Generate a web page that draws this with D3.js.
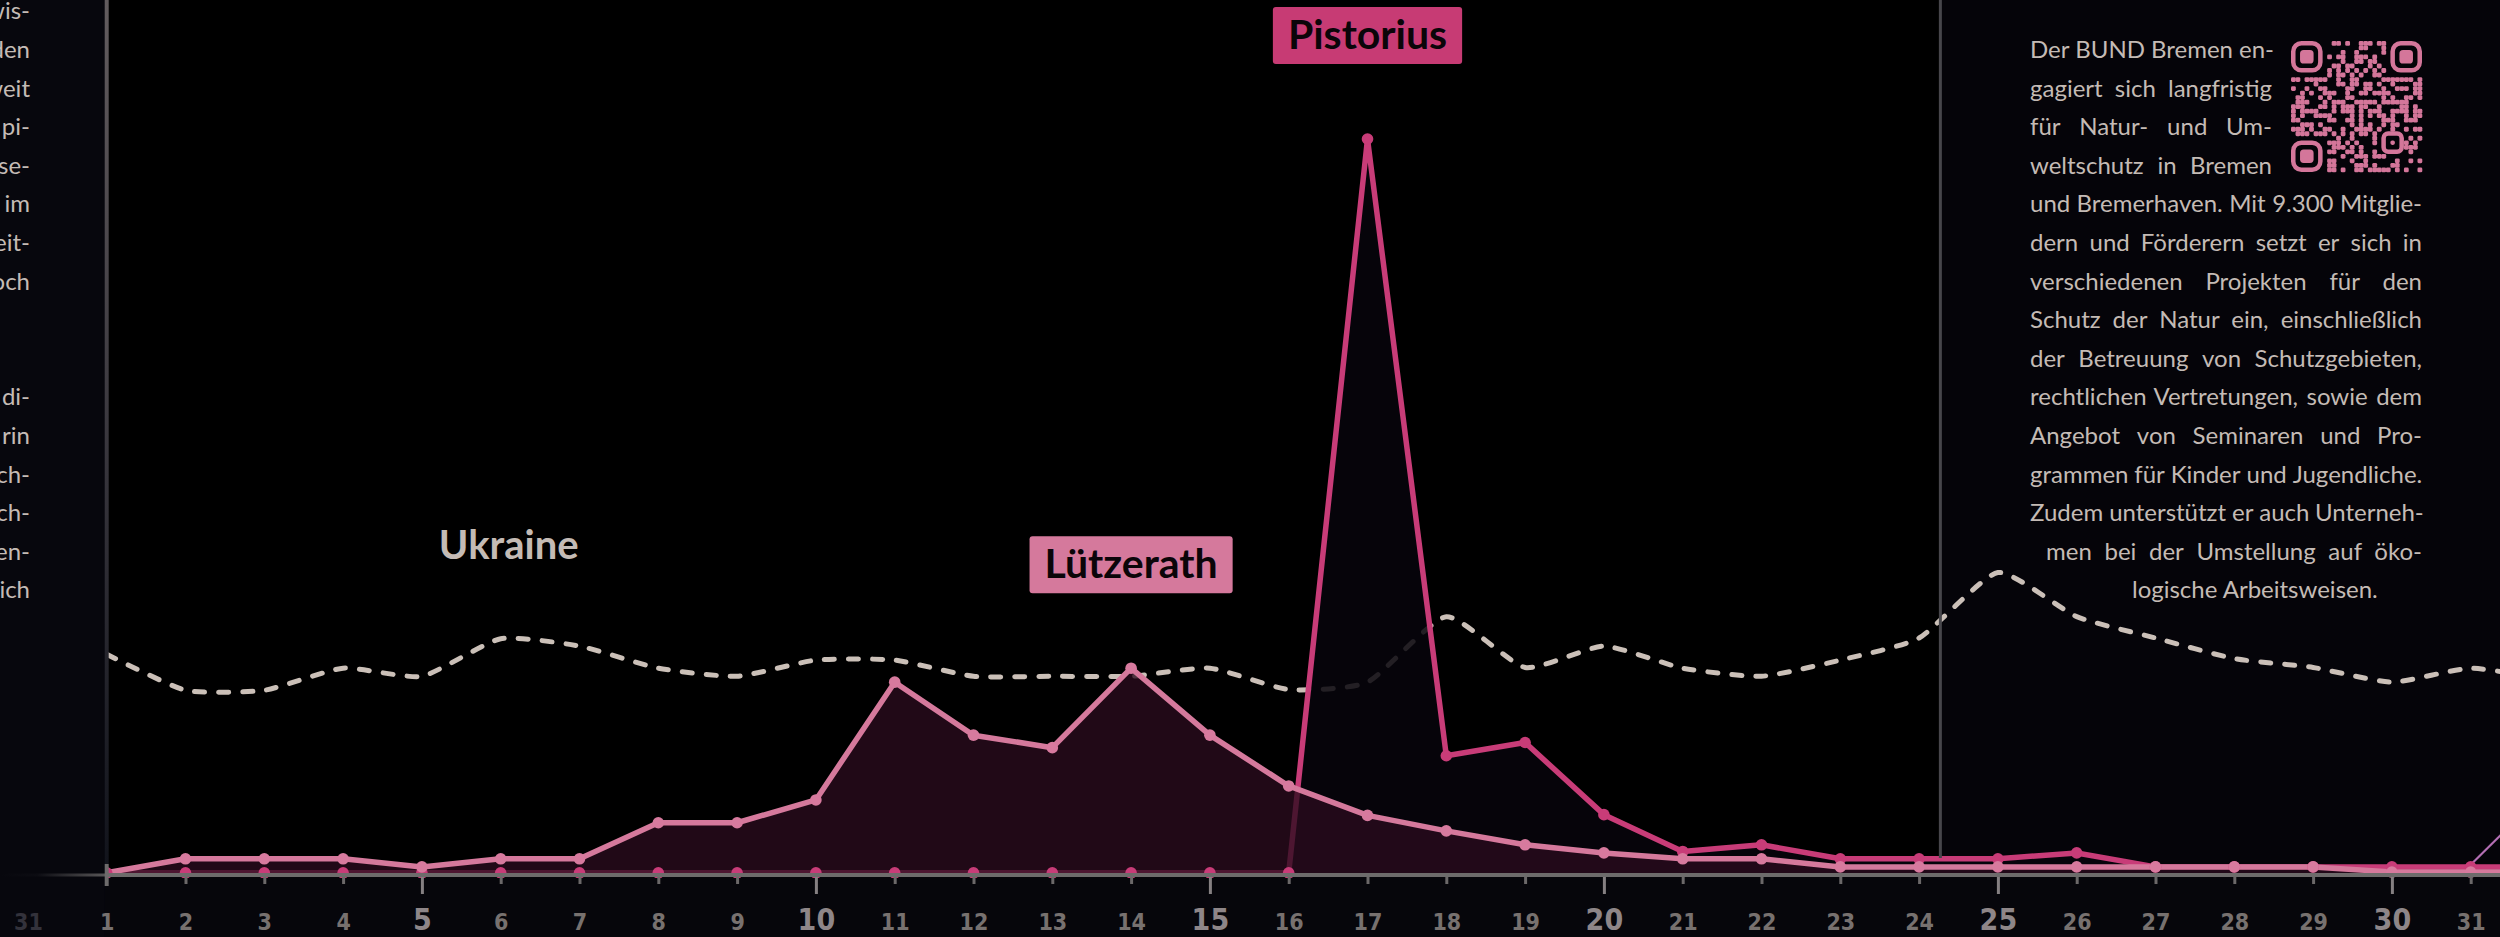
<!DOCTYPE html>
<html><head><meta charset="utf-8">
<script src="https://cdn.jsdelivr.net/npm/d3@7"></script>
<style>
html,body{margin:0;padding:0;background:#06060b;overflow:hidden}
svg{display:block}
</style></head><body>
<svg id="c" width="2500" height="937"></svg>
<script>
// ---------------- DATA ----------------
// day 0 = 31st of previous month, day 32 = 1st of next month
const days = d3.range(1, 33);
const labelDays = d3.range(0, 32);
const dayLabels = ["31","1","2","3","4","5","6","7","8","9","10","11","12","13","14","15","16","17","18","19","20","21","22","23","24","25","26","27","28","29","30","31"];
const majorDays = [5, 10, 15, 20, 25, 30];

const luetzerath = [0.3, 2.2, 2.2, 2.2, 1.1, 2.2, 2.2, 7.1, 7.1, 10.2, 26.2, 19.0, 17.3, 28.1, 19.0, 12.1,
                    8.1, 6.0, 4.1, 3.0, 2.2, 2.2, 1.1, 1.1, 1.1, 1.1, 1.1, 1.1, 1.1, 0.4, 0.4, 0.4];
const pistorius  = [0.3, 0.3, 0.3, 0.3, 0.3, 0.3, 0.3, 0.3, 0.3, 0.3, 0.3, 0.3, 0.3, 0.3, 0.3, 0.3,
                    100, 16.2, 18.0, 8.2, 3.2, 4.1, 2.2, 2.2, 2.2, 3.0, 1.1, 1.1, 1.1, 1.1, 1.1, 1.1];
const ukraine    = [30.0, 25.1, 25.1, 28.1, 27.0, 32.1, 31.1, 28.1, 27.0, 29.2, 29.2, 27.0, 27.0, 27.0, 28.1, 25.2,
                    26.2, 35.1, 28.2, 31.1, 28.1, 27.0, 29.2, 32.2, 41.1, 35.1, 32.2, 29.4, 28.2, 26.2, 28.1, 26.5];
const nextDays   = [31, 32];
const nextMonth  = [1.4, 12];

const annotations = [
  {text: "Ukraine",   day: 6,  series: "ukraine",    color: null},
  {text: "Lützerath", day: 14, series: "luetzerath", color: "#d5799c"},
  {text: "Pistorius", day: 17, series: "pistorius",  color: "#c73b74"}
];

const rightText = [
  "Der BUND Bremen en-",
  "gagiert sich langfristig",
  "für Natur- und Um-",
  "weltschutz in Bremen",
  "und Bremerhaven. Mit 9.300 Mitglie-",
  "dern und Förderern setzt er sich in",
  "verschiedenen Projekten für den",
  "Schutz der Natur ein, einschließlich",
  "der Betreuung von Schutzgebieten,",
  "rechtlichen Vertretungen, sowie dem",
  "Angebot von Seminaren und Pro-",
  "grammen für Kinder und Jugendliche.",
  "Zudem unterstützt er auch Unterneh-",
  "men bei der Umstellung auf öko-",
  "logische Arbeitsweisen."
];
const leftText = ["wis-", "den", "weit", "pi-", "se-", "im", "eit-", "och", "", "", "di-", "rin", "ch-", "ch-", "en-", "ich"];

// ---------------- LAYOUT ----------------
const W = 2500, H = 937;
const svg = d3.select('#c');
const x = d3.scaleLinear().domain([1, 31]).range([106.7, 2470.7]);
const y = d3.scaleLinear().domain([0, 100]).range([875, 139]);
const axisY = y(0);
const todayDay = 24.27;
const series = {luetzerath, pistorius, ukraine};
const TXT = '#c4bbb5';
const FONT = 'Lato, "Open Sans", sans-serif';
const NUMFONT = '"Liberation Sans Narrow", "DejaVu Sans Condensed", sans-serif';

const defs = svg.append('defs');
const vg = defs.append('linearGradient').attr('id','vfade').attr('x1',0).attr('x2',0).attr('y1',0).attr('y2',1);
vg.append('stop').attr('offset','0%').attr('stop-color','#625c5e');
vg.append('stop').attr('offset','55%').attr('stop-color','#36343b');
vg.append('stop').attr('offset','100%').attr('stop-color','#12141c');
const hg = defs.append('linearGradient').attr('id','hfade').attr('x1',0).attr('x2',1).attr('y1',0).attr('y2',0);
hg.append('stop').attr('offset','0%').attr('stop-color','#07070d');
hg.append('stop').attr('offset','35%').attr('stop-color','#0c0c12');
hg.append('stop').attr('offset','100%').attr('stop-color','#5a5859');
defs.append('clipPath').attr('id','plotclip').append('rect')
  .attr('x', x(1)).attr('y', 0).attr('width', W - x(1)).attr('height', axisY + 3);

// backgrounds
svg.append('rect').attr('x',0).attr('y',0).attr('width',W).attr('height',H).attr('fill','#06060b');
svg.append('rect').attr('x',0).attr('y',0).attr('width',x(1)-2).attr('height',H).attr('fill','#07070d');
svg.append('rect').attr('x',x(1)).attr('y',0).attr('width',x(todayDay)-x(1)).attr('height',axisY).attr('fill','#000');
svg.append('rect').attr('x',x(todayDay)).attr('y',0).attr('width',W-x(todayDay)).attr('height',axisY).attr('fill','#050409');

// ---------------- DATA MARKS ----------------
const plot = svg.append('g').attr('clip-path','url(#plotclip)');
const pts = arr => arr.map((v,i) => [days[i], v]);

plot.append('path').datum(pts(ukraine))
  .attr('d', d3.line().x(d=>x(d[0])).y(d=>y(d[1])).curve(d3.curveCardinal.tension(0.45)))
  .attr('fill','none').attr('stroke','#cbc0b8').attr('stroke-width',5)
  .attr('stroke-dasharray','10 14').attr('stroke-linecap','round');

const area = d3.area().x(d=>x(d[0])).y0(axisY).y1(d=>y(d[1]));
const line = d3.line().x(d=>x(d[0])).y(d=>y(d[1]));

plot.append('path').datum(pts(pistorius)).attr('d', area).attr('fill','#07050c').attr('fill-opacity',0.86);
plot.append('path').datum(pts(pistorius)).attr('d', line).attr('fill','none')
  .attr('stroke','#c83c78').attr('stroke-width',5.5).attr('stroke-linejoin','round');

plot.append('path').datum(pts(luetzerath)).attr('d', area).attr('fill','#2a0c1e').attr('fill-opacity',0.78);
plot.append('path').datum(pts(luetzerath)).attr('d', line).attr('fill','none')
  .attr('stroke','#d5799c').attr('stroke-width',5.5).attr('stroke-linejoin','round');

plot.append('path').datum(nextDays.map((d,i)=>[d, nextMonth[i]])).attr('d', line)
  .attr('fill','none').attr('stroke','#b46fb4').attr('stroke-width',2.2);

plot.append('g').selectAll('circle').data(pts(pistorius)).join('circle')
  .attr('cx', d=>x(d[0])).attr('cy', d=>y(d[1])).attr('r',5.8).attr('fill','#c83c78');
plot.append('g').selectAll('circle').data(pts(luetzerath).filter(d=>d[0]>1)).join('circle')
  .attr('cx', d=>x(d[0])).attr('cy', d=>y(d[1])).attr('r',5.8).attr('fill','#d77a9e');

// ---------------- AXIS ----------------
const gAxis = svg.append('g').attr('transform', `translate(0,${axisY})`)
  .call(d3.axisBottom(x).tickValues(labelDays).tickFormat(d => dayLabels[d]).tickSize(9).tickSizeOuter(0));
gAxis.select('.domain').remove();
gAxis.selectAll('.tick line')
  .attr('stroke', d => majorDays.includes(d) ? '#858082' : '#6b6869')
  .attr('stroke-width', 3).attr('y1', 2)
  .attr('y2', d => majorDays.includes(d) ? 19 : 9)
  .attr('display', d => d <= 1 ? 'none' : null);
gAxis.selectAll('.tick text')
  .attr('y', 55).attr('dy', 0)
  .attr('font-family', NUMFONT).attr('font-weight', 'bold')
  .attr('font-size', d => majorDays.includes(d) ? 30 : 23)
  .attr('fill', d => d === 0 ? '#33323b' : majorDays.includes(d) ? '#8e8688' : '#77716f');

svg.append('line').attr('x1', x(1)).attr('x2', W).attr('y1', axisY).attr('y2', axisY)
  .attr('stroke','#6d6b6b').attr('stroke-width',4);
svg.append('rect').attr('x', 0).attr('y', axisY-1.5).attr('width', x(1)).attr('height', 3).attr('fill','url(#hfade)');
svg.append('line').attr('x1', x(1)).attr('x2', x(1)).attr('y1', axisY-11).attr('y2', axisY+11)
  .attr('stroke','#6d6b6b').attr('stroke-width',4);

// vertical separators
svg.append('rect').attr('x', x(1)-2).attr('y', 0).attr('width', 4).attr('height', axisY-11).attr('fill','url(#vfade)');
svg.append('line').attr('x1', x(todayDay)).attr('x2', x(todayDay)).attr('y1', 0).attr('y2', axisY-17)
  .attr('stroke','#47464b').attr('stroke-width',3);

// ---------------- ANNOTATIONS ----------------
annotations.forEach(a => {
  const v = series[a.series][a.day - 1];
  const cx = x(a.day);
  if (!a.color) {
    const cy = y(v) - 94;
    svg.append('text').attr('x', cx + 8).attr('y', cy + 14).attr('text-anchor','middle')
      .attr('font-family', FONT).attr('font-weight', 'bold').attr('font-size', 40)
      .attr('fill', TXT).text(a.text);
  } else {
    const cy = y(v) - 104;
    const g = svg.append('g');
    const rect = g.append('rect');
    const t = g.append('text').attr('x', cx).attr('y', cy + 14).attr('text-anchor','middle')
      .attr('font-family', FONT).attr('font-weight', 'bold').attr('font-size', 41)
      .attr('fill', '#0b0509').text(a.text);
    const w = t.node().getComputedTextLength();
    rect.attr('x', cx - w/2 - 15).attr('y', cy - 28).attr('width', w + 30).attr('height', 57)
      .attr('rx', 3).attr('fill', a.color);
  }
});

// ---------------- TEXT PANELS ----------------
function placeLine(g, str, x0, x1, yb, justify) {
  const words = str.split(' ');
  const t = g.append('text').attr('y', yb);
  if (!justify || words.length < 2) { t.attr('x', x0).text(str); return; }
  const spans = words.map(w => t.append('tspan').text(w));
  const widths = spans.map(s => s.node().getComputedTextLength());
  const gap = Math.max(6, (x1 - x0 - d3.sum(widths)) / (words.length - 1));
  let cx = x0;
  spans.forEach((s, i) => { s.attr('x', cx); cx += widths[i] + gap; });
}
const rp = svg.append('g').attr('font-family', FONT).attr('font-size', 24).attr('fill', TXT);
rightText.forEach((s, i) => {
  const yb = 58 + 38.6 * i;
  if (i < 4) placeLine(rp, s, 2030, 2272, yb, true);
  else if (i === 13) placeLine(rp, s, 2046, 2422, yb, true);
  else if (i === 14) placeLine(rp, s, 2132, null, yb, false);
  else placeLine(rp, s, 2030, 2422, yb, true);
});
const lp = svg.append('g').attr('font-family', FONT).attr('font-size', 24).attr('fill', TXT).attr('text-anchor','end');
leftText.forEach((s, i) => {
  if (!s) return;
  lp.append('text').attr('x', 30).attr('y', 19.4 + 38.6 * i).text(s);
});

// ---------------- QR CODE (decorative) ----------------
const N = 29, qs = 131, m = qs / N;
const qr = svg.append('g').attr('transform', 'translate(2291,41)').attr('fill', '#d4769a');
const reserved = (r, c) => (r < 8 && c < 8) || (r < 8 && c >= N - 8) || (r >= N - 8 && c < 8) ||
                           (r >= 20 && r <= 24 && c >= 20 && c <= 24);
function hsh(r, c) {
  let v = Math.imul(r + 3, 0x9E3779B1) ^ Math.imul(c + 11, 0x85EBCA77);
  v ^= v >>> 15; v = Math.imul(v, 0xC2B2AE3D); v ^= v >>> 13;
  return (v >>> 0) % 1000;
}
const cells = [];
for (let r = 0; r < N; r++) for (let c = 0; c < N; c++) {
  if (reserved(r, c)) continue;
  const on = (r === 6 || c === 6) ? ((r + c) % 2 === 0) : hsh(r, c) < 470;
  if (on) cells.push([r, c]);
}
qr.selectAll('rect.m').data(cells).join('rect').attr('class','m')
  .attr('x', d => d[1] * m).attr('y', d => d[0] * m).attr('width', m + 0.3).attr('height', m + 0.3).attr('rx', 1.4);
[[0,0],[0,N-7],[N-7,0]].forEach(([r,c]) => {
  qr.append('rect').attr('x', c*m + m/2).attr('y', r*m + m/2).attr('width', 6*m).attr('height', 6*m)
    .attr('rx', 1.8*m).attr('fill','none').attr('stroke','#d4769a').attr('stroke-width', m);
  qr.append('rect').attr('x', (c+2)*m).attr('y', (r+2)*m).attr('width', 3*m).attr('height', 3*m).attr('rx', 0.8*m);
});
qr.append('rect').attr('x', 20*m + m/2).attr('y', 20*m + m/2).attr('width', 4*m).attr('height', 4*m)
  .attr('rx', 1*m).attr('fill','none').attr('stroke','#d4769a').attr('stroke-width', m);
qr.append('rect').attr('x', 22*m).attr('y', 22*m).attr('width', m).attr('height', m).attr('rx', 0.4*m);
</script>
</body></html>
